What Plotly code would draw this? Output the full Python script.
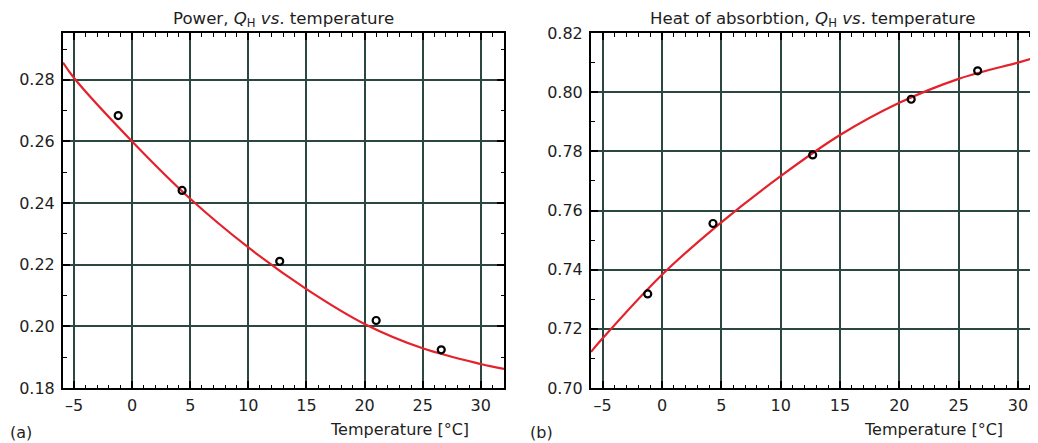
import plotly.graph_objects as go

# ---- data ----
temp_points_a = [-1.2, 4.3, 12.7, 21.0, 26.6]
power_points_a = [0.2684, 0.2441, 0.2211, 0.2019, 0.1924]

fit_temp_a = [-5.95, -5.0, 0.0, 5.0, 10.0, 15.0, 20.0, 25.0, 30.0, 32.0]
fit_power_a = [0.2856, 0.2806, 0.2600, 0.2414, 0.2256, 0.2121, 0.2008, 0.1929, 0.1878, 0.1862]

temp_points_b = [-1.2, 4.3, 12.7, 21.0, 26.6]
heat_points_b = [0.7318, 0.7556, 0.7788, 0.7976, 0.8072]

fit_temp_b = [-5.98, -5.0, 0.0, 5.0, 10.0, 15.0, 20.0, 25.0, 30.0, 31.6]
fit_heat_b = [0.7122, 0.7168, 0.7383, 0.7560, 0.7716, 0.7855, 0.7964, 0.8045, 0.8100, 0.8118]

x_tick_vals = [-5, 0, 5, 10, 15, 20, 25, 30]
x_tick_text = ["\u20135", "0", "5", "10", "15", "20", "25", "30"]
y_tick_vals_a = [0.18, 0.20, 0.22, 0.24, 0.26, 0.28]
y_tick_vals_b = [0.70, 0.72, 0.74, 0.76, 0.78, 0.80, 0.82]

title_a = "Power, <i>Q</i><sub>H</sub> <i>vs</i>. temperature"
title_b = "Heat of absorbtion, <i>Q</i><sub>H</sub> <i>vs</i>. temperature"
x_title = "Temperature [°C]"

# ---- styling ----
# the page body adds an 8px margin, so the figure is drawn 8px smaller
# and every pixel position below is the reference position minus 8
W, H = 1030, 435
FONT = "DejaVu Sans"
TXT = "#1e1e1e"
GRID = "#2c4742"
RED = "#e3222b"

fig = go.Figure()

fig.add_trace(go.Scatter(x=fit_temp_a, y=fit_power_a, mode="lines",
                         line=dict(color=RED, width=2.2, shape="spline", smoothing=1.0),
                         xaxis="x", yaxis="y", showlegend=False, hoverinfo="skip"))
fig.add_trace(go.Scatter(x=temp_points_a, y=power_points_a, mode="markers",
                         marker=dict(symbol="circle-open", size=7, color="black", line=dict(width=2.2)),
                         xaxis="x", yaxis="y", showlegend=False))
fig.add_trace(go.Scatter(x=fit_temp_b, y=fit_heat_b, mode="lines",
                         line=dict(color=RED, width=2.2, shape="spline", smoothing=1.0),
                         xaxis="x2", yaxis="y2", showlegend=False, hoverinfo="skip"))
fig.add_trace(go.Scatter(x=temp_points_b, y=heat_points_b, mode="markers",
                         marker=dict(symbol="circle-open", size=7, color="black", line=dict(width=2.2)),
                         xaxis="x2", yaxis="y2", showlegend=False))


def xaxis_cfg(domain, rng, anchor):
    return dict(domain=domain, range=rng, anchor=anchor,
                tickmode="array", tickvals=x_tick_vals, ticktext=x_tick_text,
                ticks="inside", ticklen=7, tickwidth=1.5, tickcolor="black",
                showline=True, linecolor="black", linewidth=2, mirror="allticks",
                showgrid=True, gridcolor=GRID, gridwidth=1.6,
                zeroline=False, automargin=False, ticklabelstandoff=2,
                tickfont=dict(family=FONT, size=16, color=TXT),
                minor=dict(tickmode="linear", tick0=0, dtick=1, ticks="inside",
                           ticklen=3.5, tickwidth=1.3, tickcolor="black", showgrid=False))


def yaxis_cfg(domain, rng, anchor, vals):
    return dict(domain=domain, range=rng, anchor=anchor,
                tickmode="array", tickvals=vals, ticktext=["%.2f" % v for v in vals],
                ticks="inside", ticklen=7, tickwidth=1.5, tickcolor="black",
                showline=True, linecolor="black", linewidth=2, mirror="allticks",
                showgrid=True, gridcolor=GRID, gridwidth=1.6,
                zeroline=False, automargin=False, ticklabelstandoff=3,
                tickfont=dict(family=FONT, size=16, color=TXT),
                minor=dict(tickmode="linear", tick0=0, dtick=0.01, ticks="inside",
                           ticklen=3.5, tickwidth=1.3, tickcolor="black", showgrid=False))


ydom = [55 / H, (H - 25) / H]
fig.update_layout(
    width=W, height=H,
    margin=dict(l=0, r=0, t=0, b=0),
    paper_bgcolor="white", plot_bgcolor="white",
    xaxis=xaxis_cfg([55 / W, 496 / W], [-5.95, 32.0], "y"),
    yaxis=yaxis_cfg(ydom, [0.18, 0.2952], "x", y_tick_vals_a),
    xaxis2=xaxis_cfg([583 / W, 1029 / W], [-5.98, 31.6], "y2"),
    yaxis2=yaxis_cfg(ydom, [0.70, 0.82], "x2", y_tick_vals_b),
)

ann_font = dict(family=FONT, size=16, color=TXT)
title_font = dict(family=FONT, size=16.6, color=TXT)
annotations = [
    dict(text=title_a, x=275 / W, y=(H - 11) / H, xanchor="center", yanchor="middle", font=title_font),
    dict(text=title_b, x=805 / W, y=(H - 11) / H, xanchor="center", yanchor="middle", font=title_font),
    dict(text=x_title, x=391 / W, y=(H - 421) / H, xanchor="center", yanchor="middle", font=ann_font),
    dict(text=x_title, x=925 / W, y=(H - 421) / H, xanchor="center", yanchor="middle", font=ann_font),
    dict(text="(a)", x=0 / W, y=(H - 424) / H, xanchor="left", yanchor="middle", font=ann_font),
    dict(text="(b)", x=520 / W, y=(H - 424) / H, xanchor="left", yanchor="middle", font=ann_font),
]
for a in annotations:
    a.update(xref="paper", yref="paper", showarrow=False)
fig.update_layout(annotations=annotations)

fig.write_html("out.html")
